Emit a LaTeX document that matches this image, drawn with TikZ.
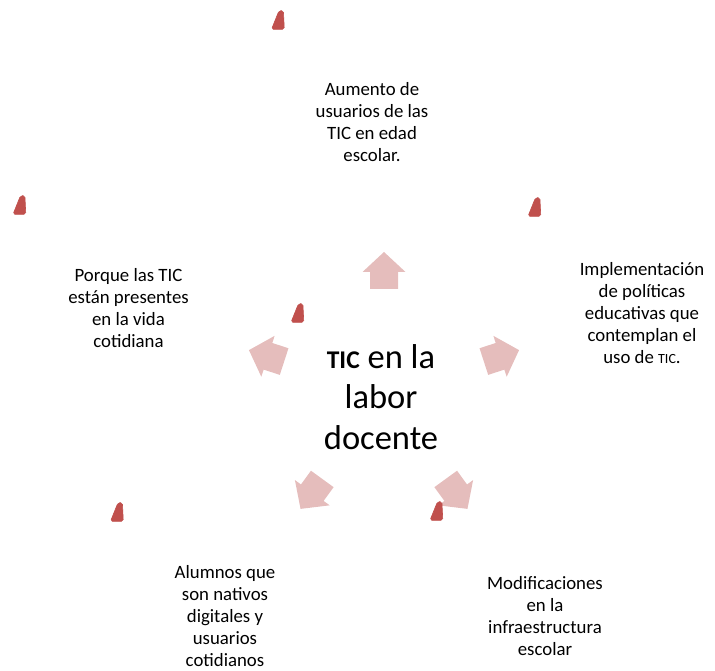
\documentclass[tikz,border=0pt]{standalone}
\usepackage{fontspec}
\setmainfont{Carlito}
\begin{document}
\begin{tikzpicture}[x=1pt,y=1pt,
  lbl/.style={align=center,font=\fontsize{18.8}{22}\selectfont,inner sep=0pt},
  arrowfill/.style={fill=arrowpink,draw=none},
  blob/.style={fill=blobred,draw=blobred,line width=0.6pt,rounded corners=1.8pt}]
\definecolor{arrowpink}{HTML}{E5BDBC}
\definecolor{blobred}{HTML}{C0504D}
\useasboundingbox (0,0) rectangle (715,670);
% center text
\node[align=center,inner sep=0pt,font=\fontsize{34.5}{40.5}\selectfont] (center) at (381,273)
  {\textbf{\fontsize{25.5}{40.5}\selectfont TIC} en la\\labor\\docente};
% arrows
\foreach \ang/\nm in {90/aup,18/aright,-54/abr,-126/abl,162/aleft}{
  \begin{scope}[shift={(384,276)},rotate=\ang]
    \fill[arrowfill] (105,-14) -- (122,-14) -- (122,-21.5) -- (142,0) -- (122,21.5) -- (122,14) -- (105,14) -- cycle;
    \coordinate (\nm) at (123,0);
  \end{scope}
}
% outer texts
\node[lbl] (top) at (372,548) {Aumento de\\usuarios de las\\TIC en edad\\escolar.};
\node[lbl] (right) at (642,357) {Implementación\\de políticas\\educativas que\\contemplan el\\uso de {\fontsize{14}{22}\selectfont TIC}.};
\node[lbl] (left) at (128.5,362) {Porque las TIC\\están presentes\\en la vida\\cotidiana};
\node[lbl] (bl) at (225,54) {Alumnos que\\son nativos\\digitales y\\usuarios\\cotidianos};
\node[lbl] (br) at (545,54) {Modificaciones\\en la\\infraestructura\\escolar};
% small red marks
\foreach \cx/\cy in {278/650, 19.5/465, 534.5/463, 297.5/357, 117/158, 436.5/159}{
  \fill[blob] (\cx-6.5,\cy-9.3) -- (\cx+6.3,\cy-9.3) -- (\cx+5.4,\cy+9.3) -- (\cx+1,\cy+9.3) -- cycle;
}
\end{tikzpicture}
\end{document}
